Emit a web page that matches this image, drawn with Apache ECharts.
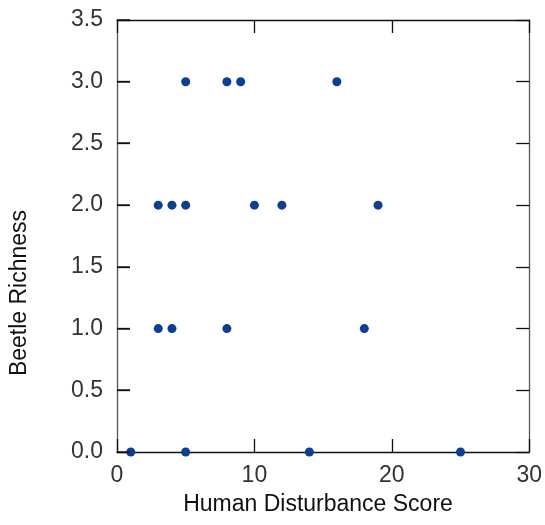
<!DOCTYPE html>
<html>
<head>
<meta charset="utf-8">
<script src="https://cdn.jsdelivr.net/npm/echarts@6/dist/echarts.min.js"></script>
<style>html,body{margin:0;padding:0;background:#fff;}#c{width:545px;height:525px;}</style>
</head>
<body>
<div id="c"></div>
<script>
const disturbance = [5, 8, 9, 16, 3, 4, 5, 10, 12, 19, 3, 4, 8, 18, 1, 5, 14, 25];
const richness    = [3, 3, 3, 3, 2, 2, 2, 2, 2, 2, 1, 1, 1, 1, 0, 0, 0, 0];
const yTicks = [0, 0.5, 1, 1.5, 2, 2.5, 3, 3.5];
const xTitle = 'Human Disturbance Score';
const yTitle = 'Beetle Richness';

const points = disturbance.map((x, i) => [x, richness[i]]);
const font = 'Liberation Sans, Arial, sans-serif';
const chart = echarts.init(document.getElementById('c'), null, {renderer: 'canvas'});
const tickIn = {show: true, inside: true, length: 13, lineStyle: {color: '#111', width: 1.3}};
const yBase = {type: 'value', min: 0, max: 3.5, interval: 0.5, splitLine: {show: false}};
chart.setOption({
  animation: false,
  grid: {left: 117, right: 13, top: 20, bottom: 73, containLabel: false},
  xAxis: [
    {type: 'value', min: 0, max: 30, interval: 10, position: 'bottom',
     axisLine: {show: true, onZero: false, lineStyle: {color: '#111', width: 1.3}},
     axisTick: tickIn, splitLine: {show: false},
     axisLabel: {margin: 12, fontSize: 23, color: '#333', fontFamily: font}},
    {type: 'value', min: 0, max: 30, interval: 10, position: 'top',
     axisLine: {show: true, onZero: false, lineStyle: {color: '#111', width: 1.3}},
     axisTick: tickIn, splitLine: {show: false}, axisLabel: {show: false}}
  ],
  yAxis: [
    Object.assign({}, yBase, {position: 'left',
     axisLine: {show: true, onZero: false, lineStyle: {color: '#555', width: 1.3}},
     axisTick: tickIn,
     axisLabel: {margin: 14, fontSize: 23, color: '#333', fontFamily: font,
                 formatter: v => v.toFixed(1)}}),
    Object.assign({}, yBase, {position: 'right',
     axisLine: {show: true, onZero: false, lineStyle: {color: '#555', width: 1.3}},
     axisTick: tickIn, axisLabel: {show: false}})
  ],
  graphic: [
    {type: 'text', z: 10, x: 318, y: 505,
     style: {text: xTitle, fontSize: 23, fill: '#111', fontFamily: font,
             textAlign: 'center', textVerticalAlign: 'middle'}},
    {type: 'text', z: 10, x: 20, y: 293, rotation: Math.PI / 2,
     style: {text: yTitle, fontSize: 23, fill: '#111', fontFamily: font,
             textAlign: 'center', textVerticalAlign: 'middle'}}
  ],
  series: [
    {
      type: 'scatter', data: points, symbolSize: 9, clip: false,
      xAxisIndex: 0, yAxisIndex: 0,
      itemStyle: {color: '#0a3f94', opacity: 1}
    },
    {
      type: 'custom', xAxisIndex: 0, yAxisIndex: 0, silent: true, clip: false, z: 100,
      data: yTicks.map(v => [0, v]),
      renderItem: function (params, api) {
        const p = api.coord([api.value(0), api.value(1)]);
        return {
          type: 'rect', z2: 100,
          shape: {x: Math.round(p[0]), y: Math.round(p[1]) - 0.7, width: 13, height: 1.4},
          style: {fill: '#111'}
        };
      }
    }
  ]
});
</script>
</body>
</html>
